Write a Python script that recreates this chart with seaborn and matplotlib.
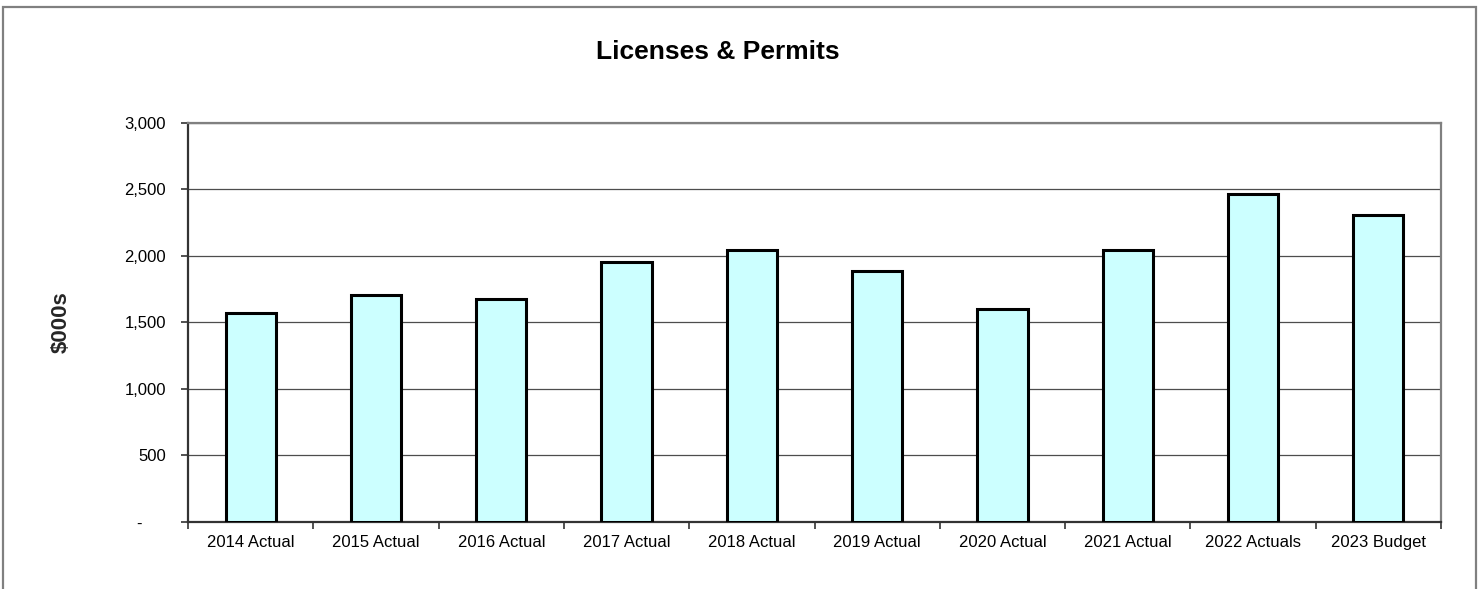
import matplotlib
matplotlib.use("Agg")
import matplotlib.pyplot as plt
import matplotlib.patches as mpatches
from matplotlib.ticker import FuncFormatter, FixedLocator
import seaborn as sns
import pandas as pd

# Licenses & Permits revenue, in thousands of dollars
categories = ["2014 Actual", "2015 Actual", "2016 Actual", "2017 Actual", "2018 Actual",
              "2019 Actual", "2020 Actual", "2021 Actual", "2022 Actuals", "2023 Budget"]
values = [1565, 1703, 1673, 1953, 2041, 1881, 1595, 2046, 2462, 2307]
y_ticks = [0, 500, 1000, 1500, 2000, 2500, 3000]

sns.set_theme(style="white")
plt.rcParams["font.family"] = ["Liberation Sans", "DejaVu Sans"]

df = pd.DataFrame({"period": categories, "amount": values})

W, H = 1481, 589
x0, x1, y_top, y_bot = 188, 1441, 122.7, 521.5

fig = plt.figure(figsize=(W / 100, H / 100), dpi=100)
fig.patch.set_facecolor("white")
ax = fig.add_axes([x0 / W, 1 - y_bot / H, (x1 - x0) / W, (y_bot - y_top) / H])

sns.barplot(data=df, x="period", y="amount", ax=ax, color="#CCFFFF", saturation=1,
            edgecolor="black", linewidth=2.2, width=0.4, zorder=3)

ax.set_xlim(-0.5, len(categories) - 0.5)
ax.set_ylim(0, 3000)
ax.set_yticks(y_ticks)
ax.yaxis.set_major_formatter(FuncFormatter(lambda v, p: "-     " if v == 0 else f"{v:,.0f}"))
ax.grid(axis="y", color="#4d4d4d", linewidth=0.9, zorder=0)
ax.set_axisbelow(True)

# tick marks sit between categories, labels stay centred under bars
ax.xaxis.set_minor_locator(FixedLocator([i - 0.5 for i in range(len(categories) + 1)]))
ax.tick_params(axis="x", which="major", length=0, pad=10, labelsize=12, colors="black")
ax.tick_params(axis="x", which="minor", bottom=True, length=5, width=1.2, color="#333333", direction="out")
ax.tick_params(axis="y", which="major", left=True, length=5, width=1.2, color="#333333",
               pad=11, labelsize=12, labelcolor="black", direction="out")

ax.set_xlabel("")
ax.set_ylabel("$000s", fontsize=16, fontweight="bold", labelpad=0)
ax.yaxis.set_label_coords(-(x0 - 72) / (x1 - x0), 0.5)

for side in ["left", "bottom"]:
    ax.spines[side].set_color("#333333")
    ax.spines[side].set_linewidth(1.6)
for side in ["top", "right"]:
    ax.spines[side].set_visible(True)
    ax.spines[side].set_color("#808080")
    ax.spines[side].set_linewidth(1.6)

fig.text(718 / W, 1 - 52 / H, "Licenses & Permits", ha="center", va="center",
         fontsize=19, fontweight="bold", color="black")

# outer chart frame (open at the bottom edge of the image)
frame = mpatches.Rectangle((3 / W, -0.05), (1476 - 3) / W, (1 - 7 / H) + 0.05,
                           transform=fig.transFigure, fill=False, edgecolor="#808080",
                           linewidth=1.6, clip_on=False)
fig.patches.append(frame)

fig.savefig("out.png", dpi=100, facecolor="white")
